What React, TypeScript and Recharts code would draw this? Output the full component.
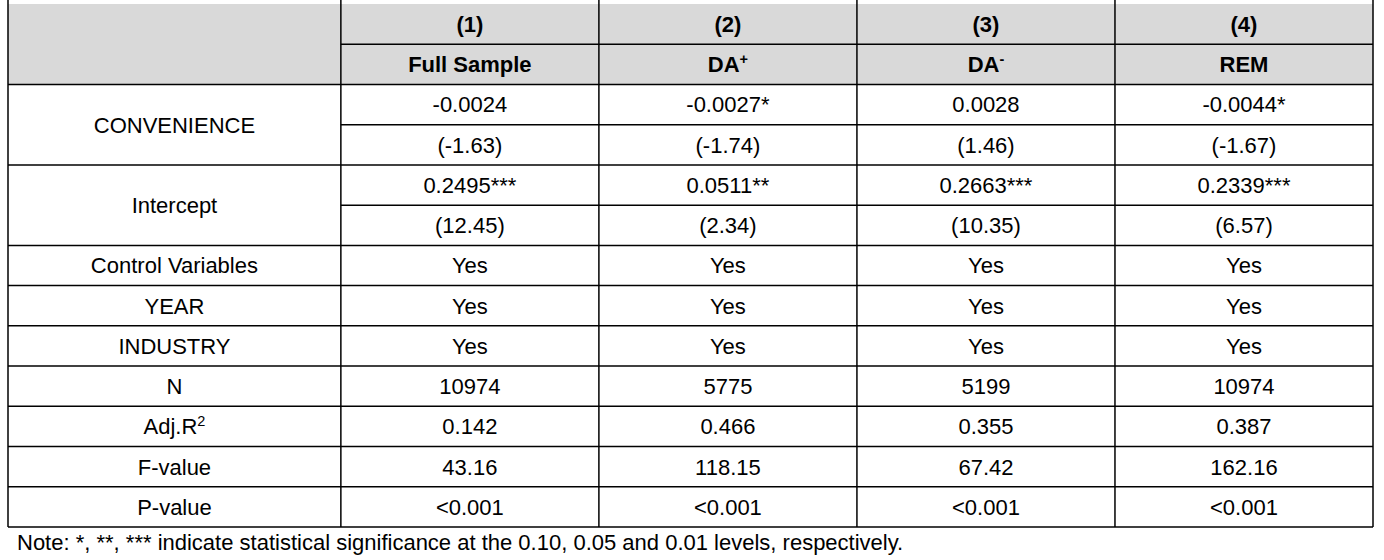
import { ScatterChart, Scatter, XAxis, YAxis, ReferenceArea, ReferenceLine } from 'recharts';

// column headers
const models = ['(1)', '(2)', '(3)', '(4)'];
const samples = ['Full Sample', 'DA', 'DA', 'REM'];
const sampleSup = ['', '+', '-', ''];

// body values, one array per row
const convenience = ['-0.0024', '-0.0027*', '0.0028', '-0.0044*'];
const convenienceT = ['(-1.63)', '(-1.74)', '(1.46)', '(-1.67)'];
const intercept = ['0.2495***', '0.0511**', '0.2663***', '0.2339***'];
const interceptT = ['(12.45)', '(2.34)', '(10.35)', '(6.57)'];
const controlVars = ['Yes', 'Yes', 'Yes', 'Yes'];
const yearFE = ['Yes', 'Yes', 'Yes', 'Yes'];
const industryFE = ['Yes', 'Yes', 'Yes', 'Yes'];
const nObs = ['10974', '5775', '5199', '10974'];
const adjR2 = ['0.142', '0.466', '0.355', '0.387'];
const fValue = ['43.16', '118.15', '67.42', '162.16'];
const pValue = ['<0.001', '<0.001', '<0.001', '<0.001'];

const rowLabels = ['CONVENIENCE', 'Intercept', 'Control Variables', 'YEAR', 'INDUSTRY', 'N', 'Adj.R', 'F-value', 'P-value'];
const rowLabelSup = ['', '', '', '', '', '', '2', '', ''];
const rowSpans = [2, 2, 1, 1, 1, 1, 1, 1, 1];

const note = 'Note: *, **, *** indicate statistical significance at the 0.10, 0.05 and 0.01 levels, respectively.';

const bodyRows = [convenience, convenienceT, intercept, interceptT, controlVars, yearFE, industryFE, nObs, adjR2, fValue, pValue];

// layout (column widths in units of a model column)
const COL_W = [1.29, 1, 1, 1, 1];
const colEdges = COL_W.reduce((acc, w) => [...acc, acc[acc.length - 1] + w], [0]);
const X_MAX = colEdges[colEdges.length - 1];
const mid = (i: number) => (colEdges[i] + colEdges[i + 1]) / 2;
const HEADER_ROWS = 2;
const N_ROWS = HEADER_ROWS + bodyRows.length;
const FONT = '"Liberation Sans", Arial, sans-serif';
const FS = 22;

type CellDatum = { x: number; y: number; text: string; sup?: string; bold?: boolean };

const cells: CellDatum[] = [];
models.forEach((m, i) => cells.push({ x: mid(i + 1), y: 0.5, text: m, bold: true }));
samples.forEach((s, i) => cells.push({ x: mid(i + 1), y: 1.5, text: s, sup: sampleSup[i], bold: true }));
bodyRows.forEach((vals, r) =>
  vals.forEach((v, i) => cells.push({ x: mid(i + 1), y: HEADER_ROWS + r + 0.5, text: v }))
);

// row boundaries that sit inside a merged label cell only cross the model columns
const partialLines = [1];
let rowPos = HEADER_ROWS;
rowLabels.forEach((label, k) => {
  cells.push({ x: mid(0), y: rowPos + rowSpans[k] / 2, text: label, sup: rowLabelSup[k] });
  for (let j = 1; j < rowSpans[k]; j++) partialLines.push(rowPos + j);
  rowPos += rowSpans[k];
});

const fullLines: number[] = [];
for (let r = HEADER_ROWS; r <= N_ROWS; r++) if (!partialLines.includes(r)) fullLines.push(r);

const CellText = (props: any) => {
  const { cx, cy, payload } = props;
  return (
    <text
      x={cx}
      y={cy + FS * 0.36}
      textAnchor="middle"
      fontFamily={FONT}
      fontSize={FS}
      fontWeight={payload.bold ? 700 : 400}
      fill="#000"
    >
      {payload.text}
      {payload.sup ? (
        <tspan dy={-FS * 0.38} fontSize={FS * 0.66}>
          {payload.sup}
        </tspan>
      ) : null}
    </text>
  );
};

export default function App() {
  return (
    <div style={{ position: 'absolute', left: 0, top: 0, width: 1384, height: 560, background: '#fff' }}>
      <ScatterChart width={1384} height={560} margin={{ top: 4, right: 11, bottom: 33, left: 8 }}>
        <XAxis type="number" dataKey="x" domain={[0, X_MAX]} allowDataOverflow hide />
        <YAxis type="number" dataKey="y" domain={[0, N_ROWS]} reversed allowDataOverflow hide />
        <ReferenceArea x1={0} x2={X_MAX} y1={0} y2={HEADER_ROWS} fill="#d9d9d9" fillOpacity={1} stroke="none" />
        {fullLines.map((r) => (
          <ReferenceLine key={`h${r}`} segment={[{ x: 0, y: r }, { x: X_MAX, y: r }]} stroke="#000" strokeWidth={1.5} />
        ))}
        {partialLines.map((r) => (
          <ReferenceLine key={`p${r}`} segment={[{ x: colEdges[1], y: r }, { x: X_MAX, y: r }]} stroke="#000" strokeWidth={1.5} />
        ))}
        {colEdges.map((x, i) => (
          <ReferenceLine
            key={`v${i}`}
            segment={[{ x, y: -0.1 }, { x, y: N_ROWS }]}
            ifOverflow="visible"
            stroke="#000"
            strokeWidth={1.5}
          />
        ))}
        <Scatter data={cells} shape={CellText} isAnimationActive={false} />
      </ScatterChart>
      <div
        style={{
          position: 'absolute',
          left: 17,
          top: 532,
          fontFamily: FONT,
          fontSize: 22,
          lineHeight: 1,
          color: '#000',
          whiteSpace: 'nowrap',
        }}
      >
        {note}
      </div>
    </div>
  );
}
